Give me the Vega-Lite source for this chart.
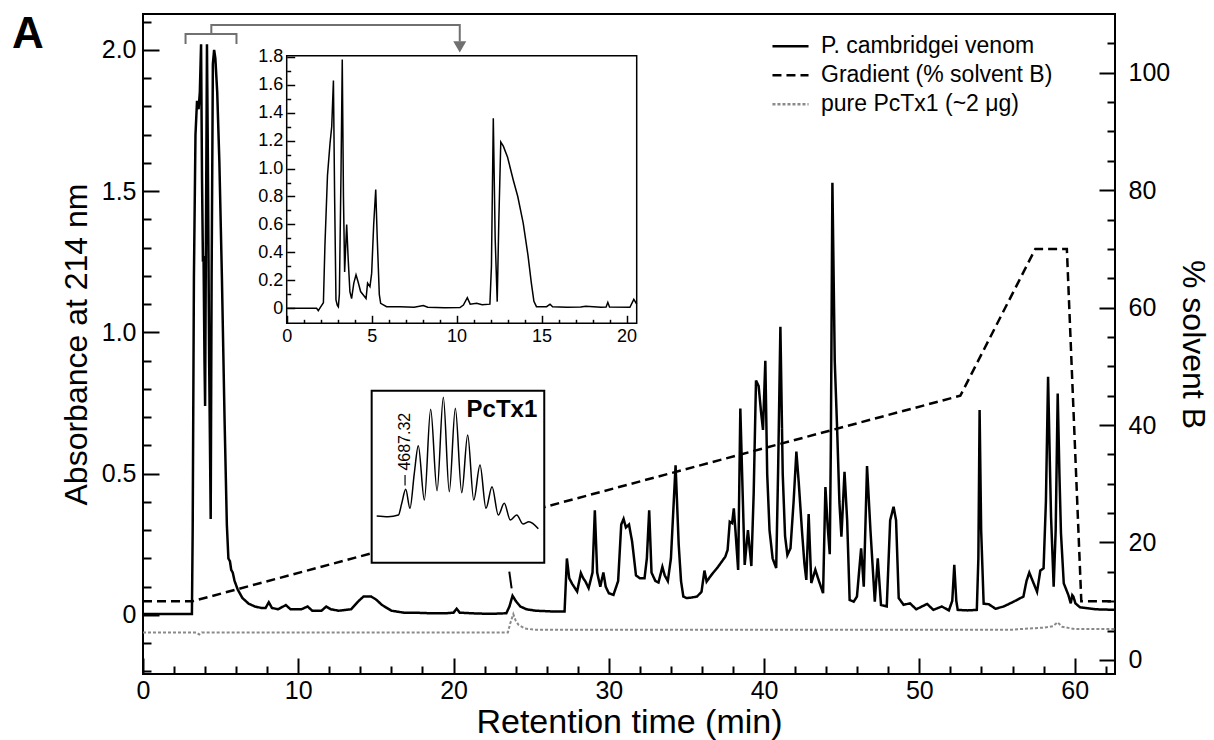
{
  "$schema": "https://vega.github.io/schema/vega-lite/v6.json",
  "width": 972,
  "height": 660,
  "autosize": {"type": "none"},
  "padding": {"left": 143, "top": 14, "right": 99, "bottom": 66},
  "title": {"text": "A", "anchor": "start", "frame": "group", "orient": "top", "fontSize": 44, "fontWeight": "bold", "font": "Liberation Sans", "color": "black", "dx": -131, "dy": 78, "offset": 0, "baseline": "alphabetic"},
  "config": {
    "view": {"stroke": "black", "strokeWidth": 2},
    "axis": {"grid": false, "domain": false, "labelFont": "Liberation Sans", "titleFont": "Liberation Sans", "labelColor": "black", "titleColor": "black", "tickColor": "black", "titleFontWeight": "normal", "labelFlush": false, "labelOverlap": false, "labelBound": false, "zindex": 1}
  },
  "datasets": {
    "venom": [
      {"t":0,"v":0.003},{"t":3.15,"v":0.003},{"t":3.2,"v":0.3},{"t":3.28,"v":1.2},{"t":3.38,"v":1.7},{"t":3.48,"v":1.82},{"t":3.58,"v":1.79},{"t":3.66,"v":1.85},{"t":3.74,"v":2.02},{"t":3.8,"v":1.55},{"t":3.86,"v":1.25},{"t":3.9,"v":1.27},{"t":3.96,"v":0.9},{"t":4.0,"v":0.74},{"t":4.05,"v":1.3},{"t":4.12,"v":2.02},{"t":4.18,"v":1.6},{"t":4.26,"v":0.9},{"t":4.36,"v":0.34},{"t":4.42,"v":1.2},{"t":4.5,"v":1.95},{"t":4.58,"v":2.0},{"t":4.66,"v":1.97},{"t":4.78,"v":1.85},{"t":4.92,"v":1.6},{"t":5.08,"v":1.2},{"t":5.25,"v":0.7},{"t":5.4,"v":0.32},{"t":5.5,"v":0.2},{"t":5.6,"v":0.19},{"t":5.68,"v":0.16},{"t":5.78,"v":0.15},{"t":5.9,"v":0.12},{"t":6.1,"v":0.09},{"t":6.4,"v":0.06},{"t":6.8,"v":0.04},{"t":7.2,"v":0.03},{"t":7.6,"v":0.025},{"t":7.9,"v":0.025},{"t":8.1,"v":0.045},{"t":8.3,"v":0.025},{"t":8.7,"v":0.02},{"t":9.2,"v":0.035},{"t":9.5,"v":0.02},{"t":10.2,"v":0.02},{"t":10.6,"v":0.03},{"t":10.9,"v":0.015},{"t":11.5,"v":0.015},{"t":11.8,"v":0.03},{"t":12.1,"v":0.02},{"t":12.6,"v":0.015},{"t":13.4,"v":0.02},{"t":13.9,"v":0.05},{"t":14.2,"v":0.065},{"t":14.7,"v":0.065},{"t":15.0,"v":0.055},{"t":15.4,"v":0.035},{"t":16.0,"v":0.015},{"t":16.8,"v":0.008},{"t":17.5,"v":0.008},{"t":18.5,"v":0.006},{"t":19.5,"v":0.006},{"t":20.0,"v":0.008},{"t":20.2,"v":0.022},{"t":20.4,"v":0.008},{"t":21.5,"v":0.005},{"t":22.5,"v":0.004},{"t":23.4,"v":0.006},{"t":23.6,"v":0.03},{"t":23.8,"v":0.068},{"t":24.0,"v":0.05},{"t":24.3,"v":0.03},{"t":24.7,"v":0.02},{"t":25.3,"v":0.015},{"t":26.5,"v":0.012},{"t":27.15,"v":0.012},{"t":27.22,"v":0.1},{"t":27.3,"v":0.2},{"t":27.45,"v":0.13},{"t":27.64,"v":0.11},{"t":27.96,"v":0.083},{"t":28.2,"v":0.148},{"t":28.35,"v":0.13},{"t":28.5,"v":0.118},{"t":28.7,"v":0.095},{"t":28.95,"v":0.15},{"t":29.1,"v":0.37},{"t":29.25,"v":0.15},{"t":29.45,"v":0.1},{"t":29.65,"v":0.15},{"t":29.8,"v":0.1},{"t":30.0,"v":0.077},{"t":30.3,"v":0.071},{"t":30.6,"v":0.12},{"t":30.8,"v":0.32},{"t":30.95,"v":0.34},{"t":31.1,"v":0.31},{"t":31.3,"v":0.32},{"t":31.5,"v":0.26},{"t":31.75,"v":0.14},{"t":32.0,"v":0.13},{"t":32.3,"v":0.13},{"t":32.45,"v":0.2},{"t":32.6,"v":0.37},{"t":32.75,"v":0.15},{"t":33.0,"v":0.12},{"t":33.2,"v":0.115},{"t":33.45,"v":0.17},{"t":33.6,"v":0.14},{"t":33.8,"v":0.12},{"t":34.0,"v":0.2},{"t":34.3,"v":0.53},{"t":34.5,"v":0.25},{"t":34.65,"v":0.12},{"t":34.8,"v":0.065},{"t":35.0,"v":0.06},{"t":35.25,"v":0.061},{"t":35.68,"v":0.065},{"t":35.97,"v":0.082},{"t":36.16,"v":0.157},{"t":36.3,"v":0.118},{"t":36.6,"v":0.141},{"t":37.03,"v":0.17},{"t":37.5,"v":0.206},{"t":37.65,"v":0.23},{"t":37.79,"v":0.33},{"t":37.94,"v":0.325},{"t":38.05,"v":0.377},{"t":38.16,"v":0.295},{"t":38.33,"v":0.159},{"t":38.47,"v":0.731},{"t":38.62,"v":0.43},{"t":38.75,"v":0.177},{"t":38.96,"v":0.3},{"t":39.18,"v":0.173},{"t":39.33,"v":0.43},{"t":39.48,"v":0.83},{"t":39.65,"v":0.81},{"t":39.8,"v":0.72},{"t":39.93,"v":0.655},{"t":40.08,"v":0.9},{"t":40.2,"v":0.5},{"t":40.35,"v":0.3},{"t":40.55,"v":0.2},{"t":40.78,"v":0.166},{"t":40.9,"v":0.5},{"t":41.05,"v":1.02},{"t":41.2,"v":0.5},{"t":41.35,"v":0.28},{"t":41.5,"v":0.212},{"t":41.7,"v":0.236},{"t":41.9,"v":0.4},{"t":42.08,"v":0.578},{"t":42.23,"v":0.47},{"t":42.45,"v":0.29},{"t":42.6,"v":0.18},{"t":42.72,"v":0.124},{"t":42.87,"v":0.357},{"t":43.04,"v":0.113},{"t":43.3,"v":0.16},{"t":43.51,"v":0.124},{"t":43.8,"v":0.077},{"t":43.95,"v":0.453},{"t":44.1,"v":0.31},{"t":44.23,"v":0.215},{"t":44.3,"v":0.6},{"t":44.4,"v":1.53},{"t":44.55,"v":0.9},{"t":44.7,"v":0.666},{"t":44.85,"v":0.4},{"t":44.98,"v":0.277},{"t":45.18,"v":0.507},{"t":45.35,"v":0.335},{"t":45.51,"v":0.053},{"t":45.77,"v":0.047},{"t":45.98,"v":0.065},{"t":46.25,"v":0.236},{"t":46.42,"v":0.1},{"t":46.63,"v":0.527},{"t":46.85,"v":0.3},{"t":47.13,"v":0.047},{"t":47.32,"v":0.2},{"t":47.53,"v":0.035},{"t":47.9,"v":0.03},{"t":48.12,"v":0.335},{"t":48.34,"v":0.383},{"t":48.5,"v":0.335},{"t":48.67,"v":0.06},{"t":48.98,"v":0.036},{"t":49.4,"v":0.041},{"t":49.8,"v":0.02},{"t":50.5,"v":0.039},{"t":50.9,"v":0.018},{"t":51.45,"v":0.03},{"t":51.9,"v":0.016},{"t":52.12,"v":0.05},{"t":52.25,"v":0.177},{"t":52.38,"v":0.05},{"t":52.47,"v":0.018},{"t":53.1,"v":0.016},{"t":53.7,"v":0.018},{"t":53.8,"v":0.2},{"t":53.88,"v":0.725},{"t":53.98,"v":0.3},{"t":54.14,"v":0.04},{"t":54.47,"v":0.038},{"t":54.9,"v":0.022},{"t":55.43,"v":0.03},{"t":56.07,"v":0.047},{"t":56.7,"v":0.065},{"t":56.9,"v":0.12},{"t":57.08,"v":0.15},{"t":57.3,"v":0.12},{"t":57.58,"v":0.082},{"t":57.79,"v":0.157},{"t":58.0,"v":0.165},{"t":58.15,"v":0.4},{"t":58.29,"v":0.843},{"t":58.4,"v":0.55},{"t":58.48,"v":0.35},{"t":58.65,"v":0.1},{"t":58.78,"v":0.3},{"t":58.91,"v":0.784},{"t":59.02,"v":0.5},{"t":59.12,"v":0.29},{"t":59.3,"v":0.112},{"t":59.6,"v":0.07},{"t":59.75,"v":0.041},{"t":59.85,"v":0.07},{"t":59.92,"v":0.065},{"t":60.05,"v":0.041},{"t":60.35,"v":0.027},{"t":61.4,"v":0.02},{"t":62.6,"v":0.018}
    ],
    "pctx1": [
      {"t":0,"v":-0.062},{"t":3.45,"v":-0.062},{"t":3.62,"v":-0.069},{"t":3.78,"v":-0.062},{"t":23.5,"v":-0.062},{"t":23.65,"v":-0.03},{"t":23.85,"v":0.003},{"t":24.0,"v":-0.02},{"t":24.2,"v":-0.036},{"t":24.6,"v":-0.048},{"t":25.2,"v":-0.052},{"t":56.0,"v":-0.052},{"t":57.0,"v":-0.048},{"t":58.0,"v":-0.045},{"t":58.6,"v":-0.04},{"t":58.9,"v":-0.026},{"t":59.2,"v":-0.042},{"t":60.0,"v":-0.05},{"t":62.6,"v":-0.05}
    ],
    "gradient": [
      {"t":0,"v":10},{"t":3.2,"v":10},{"t":52.64,"v":45},{"t":57.47,"v":70},{"t":59.5,"v":70},{"t":60.43,"v":10},{"t":62.6,"v":10}
    ],
    "bracket": [
      {"t":2.74,"v":2.021,"seg":"a","o":1},{"t":2.74,"v":2.056,"seg":"a","o":2},{"t":6.02,"v":2.056,"seg":"a","o":3},{"t":6.02,"v":2.021,"seg":"a","o":4},
      {"t":4.4,"v":2.056,"seg":"b","o":1},{"t":4.4,"v":2.088,"seg":"b","o":2},{"t":20.4,"v":2.088,"seg":"b","o":3},{"t":20.4,"v":2.03,"seg":"b","o":4}
    ],
    "leader": [{"t":23.59,"v":0.153},{"t":23.74,"v":0.094}],
    "inset": [
      {"t":0,"v":0},{"t":1.76,"v":0},{"t":1.86,"v":-0.017},{"t":2.0,"v":0.01},{"t":2.16,"v":0.04},{"t":2.25,"v":0.45},{"t":2.4,"v":0.95},{"t":2.55,"v":1.18},{"t":2.65,"v":1.3},{"t":2.75,"v":1.63},{"t":2.82,"v":0.8},{"t":2.9,"v":0.06},{"t":2.98,"v":0.02},{"t":3.04,"v":0.01},{"t":3.1,"v":0.1},{"t":3.2,"v":1.0},{"t":3.27,"v":1.78},{"t":3.34,"v":0.8},{"t":3.41,"v":0.26},{"t":3.53,"v":0.6},{"t":3.62,"v":0.35},{"t":3.72,"v":0.12},{"t":3.82,"v":0.07},{"t":3.95,"v":0.18},{"t":4.08,"v":0.24},{"t":4.2,"v":0.19},{"t":4.35,"v":0.12},{"t":4.51,"v":0.095},{"t":4.67,"v":0.07},{"t":4.76,"v":0.18},{"t":4.9,"v":0.155},{"t":5.0,"v":0.25},{"t":5.12,"v":0.6},{"t":5.24,"v":0.85},{"t":5.33,"v":0.5},{"t":5.45,"v":0.1},{"t":5.53,"v":0.036},{"t":5.88,"v":0.012},{"t":6.67,"v":0.012},{"t":7.5,"v":0.008},{"t":8.04,"v":0.02},{"t":8.3,"v":0.008},{"t":9.3,"v":0.005},{"t":10.2,"v":0.006},{"t":10.4,"v":0.024},{"t":10.63,"v":0.076},{"t":10.8,"v":0.03},{"t":11.18,"v":0.036},{"t":11.5,"v":0.025},{"t":11.96,"v":0.03},{"t":12.05,"v":0.3},{"t":12.16,"v":1.36},{"t":12.27,"v":0.5},{"t":12.39,"v":0.048},{"t":12.48,"v":0.6},{"t":12.6,"v":1.19},{"t":12.75,"v":1.16},{"t":13.0,"v":1.08},{"t":13.33,"v":0.92},{"t":13.6,"v":0.8},{"t":13.92,"v":0.61},{"t":14.2,"v":0.38},{"t":14.4,"v":0.18},{"t":14.55,"v":0.05},{"t":14.7,"v":0.012},{"t":15.3,"v":0.012},{"t":15.5,"v":0.03},{"t":15.65,"v":0.012},{"t":16.5,"v":0.008},{"t":17.3,"v":0.01},{"t":17.6,"v":0.015},{"t":18.5,"v":0.008},{"t":18.8,"v":0.01},{"t":18.9,"v":0.043},{"t":19.0,"v":0.01},{"t":20.2,"v":0.008},{"t":20.43,"v":0.064},{"t":20.6,"v":0.03}
    ],
    "ms": [
      {"mz":4685.0,"i":13.8},{"mz":4686.0,"i":13.3},{"mz":4686.9,"i":14.5},{"mz":4687.19,"i":23},{"mz":4687.54,"i":33.2},{"mz":4687.91,"i":19.4},{"mz":4688.29,"i":44.8},{"mz":4688.64,"i":64.9},{"mz":4689.17,"i":25.4},{"mz":4689.72,"i":91.3},{"mz":4690.28,"i":32.2},{"mz":4690.83,"i":100},{"mz":4691.35,"i":31.4},{"mz":4691.88,"i":92},{"mz":4692.44,"i":30.7},{"mz":4692.96,"i":72.6},{"mz":4693.49,"i":25.4},{"mz":4694.04,"i":50.8},{"mz":4694.56,"i":19.4},{"mz":4695.09,"i":35.1},{"mz":4695.64,"i":14.5},{"mz":4696.16,"i":23},{"mz":4696.69,"i":10.9},{"mz":4697.25,"i":14.5},{"mz":4697.8,"i":8},{"mz":4698.32,"i":9.7},{"mz":4699.14,"i":4.6}
    ]
  },
  "layer": [
    {
      "layer": [
        {
          "layer": [
            {
              "data": {"name": "venom"},
              "mark": {"type": "line", "strokeWidth": 2.5},
              "encoding": {
                "x": {"field": "t", "type": "quantitative", "title": "Retention time (min)",
                  "scale": {"domain": [0, 62.6], "nice": false, "zero": false},
                  "axis": {"orient": "bottom", "values": [0,10,20,30,40,50,60], "format": "d", "ticks": false,
                    "labelPadding": 4, "labelFontSize": 25, "titleFontSize": 34, "titlePadding": 2}},
                "y": {"field": "v", "type": "quantitative", "title": "Absorbance at 214 nm",
                  "scale": {"domain": [-0.209, 2.127], "nice": false, "zero": false},
                  "axis": {"orient": "left", "values": [0, 0.5, 1, 1.5, 2], "format": ".1f", "labelExpr": "datum.value === 0 ? '0' : datum.label", "ticks": false,
                    "labelPadding": 7, "labelFontSize": 25, "titleFontSize": 32, "titlePadding": 8}},
                "color": {"datum": "P. cambridgei venom", "type": "nominal",
                  "scale": {"domain": ["P. cambridgei venom", "Gradient (% solvent B)", "pure PcTx1 (~2 μg)"], "range": ["#000000", "#000000", "#8a8a8a"]},
                  "legend": {"orient": "none", "legendX": 628, "legendY": 18, "title": null, "symbolType": "stroke", "symbolSize": 1300, "symbolStrokeWidth": 2.5, "labelFontSize": 23, "labelFont": "Liberation Sans", "labelColor": "black", "labelLimit": 500, "clipHeight": 28.5, "rowPadding": 0, "labelOffset": 11, "padding": 0}},
                "strokeDash": {"datum": "P. cambridgei venom", "type": "nominal",
                  "scale": {"domain": ["P. cambridgei venom", "Gradient (% solvent B)", "pure PcTx1 (~2 μg)"], "range": [[1,0],[9,5],[3,2]]},
                  "legend": {"orient": "none", "legendX": 628, "legendY": 18, "title": null, "symbolType": "stroke", "symbolSize": 1300, "symbolStrokeWidth": 2.5, "labelFontSize": 23, "labelFont": "Liberation Sans", "labelColor": "black", "labelLimit": 500, "clipHeight": 28.5, "rowPadding": 0, "labelOffset": 11, "padding": 0}}
              }
            },
            {
              "data": {"name": "pctx1"},
              "mark": {"type": "line", "strokeWidth": 2},
              "encoding": {
                "x": {"field": "t", "type": "quantitative",
                  "axis": {"orient": "top", "offset": -660, "title": null, "values": [0,10,20,30,40,50,60], "labels": false, "tickSize": 16, "tickWidth": 2}},
                "y": {"field": "v", "type": "quantitative",
                  "axis": {"orient": "right", "offset": -972, "title": null, "values": [0,0.5,1,1.5,2], "labels": false, "tickSize": 16, "tickWidth": 2}},
                "color": {"datum": "pure PcTx1 (~2 μg)", "type": "nominal"},
                "strokeDash": {"datum": "pure PcTx1 (~2 μg)", "type": "nominal"}
              }
            },
            {
              "data": {"name": "bracket"},
              "mark": {"type": "line", "strokeWidth": 2, "color": "#707070"},
              "encoding": {
                "x": {"field": "t", "type": "quantitative",
                  "axis": {"orient": "top", "offset": -660, "title": null, "values": [2,4,6,8,12,14,16,18,22,24,26,28,32,34,36,38,42,44,46,48,52,54,56,58,62], "labels": false, "tickSize": 8, "tickWidth": 2}},
                "y": {"field": "v", "type": "quantitative",
                  "axis": {"orient": "right", "offset": -972, "title": null, "values": [-0.2,-0.1,0.1,0.2,0.3,0.4,0.6,0.7,0.8,0.9,1.1,1.2,1.3,1.4,1.6,1.7,1.8,1.9,2.1], "labels": false, "tickSize": 8, "tickWidth": 2}},
                "detail": {"field": "seg"},
                "order": {"field": "o"}
              }
            },
            {
              "data": {"values": [{}]},
              "mark": {"type": "point", "shape": "triangle-down", "filled": true, "size": 170, "color": "#707070", "opacity": 1},
              "encoding": {
                "x": {"datum": 20.4, "type": "quantitative", "axis": null},
                "y": {"datum": 2.011, "type": "quantitative", "axis": null}
              }
            },
            {
              "data": {"name": "leader"},
              "mark": {"type": "line", "strokeWidth": 2, "color": "black"},
              "encoding": {
                "x": {"field": "t", "type": "quantitative", "axis": null},
                "y": {"field": "v", "type": "quantitative", "axis": null}
              }
            }
          ],
          "resolve": {"axis": {"x": "independent", "y": "independent"}}
        },
        {
          "layer": [
            {
              "data": {"name": "gradient"},
              "mark": {"type": "line", "strokeWidth": 2.5},
              "encoding": {
                "x": {"field": "t", "type": "quantitative", "axis": null},
                "y": {"field": "v", "type": "quantitative", "title": "% solvent B",
                  "scale": {"domain": [-2.4, 110], "nice": false, "zero": false},
                  "axis": {"orient": "right", "values": [0,20,40,60,80,100], "ticks": false,
                    "labelPadding": 13, "labelFontSize": 25, "titleFontSize": 32, "titlePadding": 6}},
                "color": {"datum": "Gradient (% solvent B)", "type": "nominal"},
                "strokeDash": {"datum": "Gradient (% solvent B)", "type": "nominal"}
              }
            },
            {
              "data": {"name": "gradient"},
              "mark": {"type": "line", "opacity": 0},
              "encoding": {
                "x": {"field": "t", "type": "quantitative", "axis": null},
                "y": {"field": "v", "type": "quantitative",
                  "axis": {"orient": "left", "offset": -972, "title": null, "values": [0,20,40,60,80,100], "labels": false, "tickSize": 16, "tickWidth": 2}}
              }
            },
            {
              "data": {"name": "gradient"},
              "mark": {"type": "line", "opacity": 0},
              "encoding": {
                "x": {"field": "t", "type": "quantitative", "axis": null},
                "y": {"field": "v", "type": "quantitative",
                  "axis": {"orient": "left", "offset": -972, "title": null, "values": [5,10,15,25,30,35,45,50,55,65,70,75,85,90,95,105], "labels": false, "tickSize": 8, "tickWidth": 2}}
              }
            }
          ],
          "resolve": {"axis": {"y": "independent"}}
        }
      ],
      "resolve": {"scale": {"y": "independent"}, "axis": {"x": "independent", "y": "independent"}}
    },
    {
      "layer": [
        {
          "data": {"name": "inset"},
          "mark": {"type": "line", "strokeWidth": 1.5, "color": "black"},
          "encoding": {
            "x": {"field": "t", "type": "quantitative",
              "scale": {"domain": [0, 20.6], "range": [143.7, 493.7], "nice": false, "zero": false},
              "axis": {"orient": "bottom", "offset": -350.7, "title": null, "values": [0,5,10,15,20], "format": "d", "ticks": false,
                "labelPadding": 4, "labelFontSize": 18}},
            "y": {"field": "v", "type": "quantitative",
              "scale": {"domain": [-0.107, 1.807], "range": [309.3, 41.7], "nice": false, "zero": false},
              "axis": {"orient": "left", "offset": -143.7, "title": null, "values": [0,0.2,0.4,0.6,0.8,1,1.2,1.4,1.6,1.8], "format": ".1f", "labelExpr": "datum.value === 0 ? '0' : datum.label", "ticks": false,
                "labelPadding": 4, "labelFontSize": 18}}
          }
        },
        {
          "data": {"name": "inset"},
          "mark": {"type": "line", "opacity": 0},
          "encoding": {
            "x": {"field": "t", "type": "quantitative",
              "axis": {"orient": "top", "offset": -309.3, "title": null, "values": [0,5,10,15,20], "labels": false, "tickSize": 8, "tickWidth": 1.5, "zindex": 3}},
            "y": {"field": "v", "type": "quantitative",
              "axis": {"orient": "right", "offset": -828.3, "title": null, "values": [0,0.2,0.4,0.6,0.8,1,1.2,1.4,1.6,1.8], "labels": false, "tickSize": 8, "tickWidth": 1.5, "zindex": 3}}
          }
        },
        {
          "data": {"name": "inset"},
          "mark": {"type": "line", "opacity": 0},
          "encoding": {
            "x": {"field": "t", "type": "quantitative",
              "axis": {"orient": "top", "offset": -309.3, "title": null, "values": [1,2,3,4,6,7,8,9,11,12,13,14,16,17,18,19], "labels": false, "tickSize": 4, "tickWidth": 1.5, "zindex": 3}},
            "y": {"field": "v", "type": "quantitative",
              "axis": {"orient": "right", "offset": -828.3, "title": null, "values": [0.1,0.3,0.5,0.7,0.9,1.1,1.3,1.5,1.7], "labels": false, "tickSize": 4, "tickWidth": 1.5, "zindex": 3}}
          }
        },
        {
          "data": {"values": [{}]},
          "mark": {"type": "rect", "filled": false, "stroke": "black", "strokeWidth": 1.5},
          "encoding": {
            "x": {"datum": 0, "type": "quantitative", "axis": null},
            "x2": {"datum": 20.6},
            "y": {"datum": -0.107, "type": "quantitative", "axis": null},
            "y2": {"datum": 1.807}
          }
        }
      ],
      "resolve": {"axis": {"x": "independent", "y": "independent"}}
    },
    {
      "layer": [
        {
          "data": {"values": [{}]},
          "mark": {"type": "rect", "fill": "white", "stroke": "black", "strokeWidth": 2},
          "encoding": {
            "x": {"datum": 4684.56, "type": "quantitative",
              "scale": {"domain": [4685, 4699.2], "range": [233.7, 396], "nice": false, "zero": false},
              "axis": {"orient": "bottom", "offset": -139, "title": "m/z", "titleFontSize": 10, "titlePadding": 0, "domain": true, "domainColor": "black", "domainWidth": 1.2,
                "values": [4685,4686,4687,4688,4689,4690,4691,4692,4693,4694,4695,4696,4697,4698,4699],
                "labelExpr": "datum.value % 2 === 0 && datum.value <= 4696 ? datum.label : ''",
                "format": "d", "tickSize": 3, "tickWidth": 1, "labelPadding": 2, "labelFontSize": 7.5}},
            "x2": {"datum": 4699.66},
            "y": {"datum": -20.1, "type": "quantitative",
              "scale": {"domain": [-20.1, 104.8], "range": [548.7, 376.7], "nice": false, "zero": false},
              "axis": null},
            "y2": {"datum": 104.8}
          }
        },
        {
          "data": {"name": "ms"},
          "mark": {"type": "line", "strokeWidth": 1.5, "color": "black", "interpolate": "monotone"},
          "encoding": {
            "x": {"field": "mz", "type": "quantitative"},
            "y": {"field": "i", "type": "quantitative"}
          }
        },
        {
          "data": {"values": [{}]},
          "mark": {"type": "rule", "strokeWidth": 1.2, "color": "black"},
          "encoding": {
            "x": {"datum": 4687.48, "type": "quantitative"},
            "y": {"datum": 36, "type": "quantitative"},
            "y2": {"datum": 43.6}
          }
        },
        {
          "data": {"values": [{}]},
          "mark": {"type": "text", "text": "4687.32", "angle": 270, "fontSize": 16, "font": "Liberation Sans", "align": "center", "baseline": "middle", "color": "black"},
          "encoding": {
            "x": {"datum": 4687.48, "type": "quantitative"},
            "y": {"datum": 67.8, "type": "quantitative"}
          }
        },
        {
          "data": {"values": [{}]},
          "mark": {"type": "text", "text": "PcTx1", "fontSize": 24, "fontWeight": "bold", "font": "Liberation Sans", "align": "center", "baseline": "middle", "color": "black"},
          "encoding": {
            "x": {"datum": 4695.96, "type": "quantitative"},
            "y": {"datum": 90.8, "type": "quantitative"}
          }
        }
      ]
    }
  ],
  "resolve": {"scale": {"x": "independent", "y": "independent"}}
}
